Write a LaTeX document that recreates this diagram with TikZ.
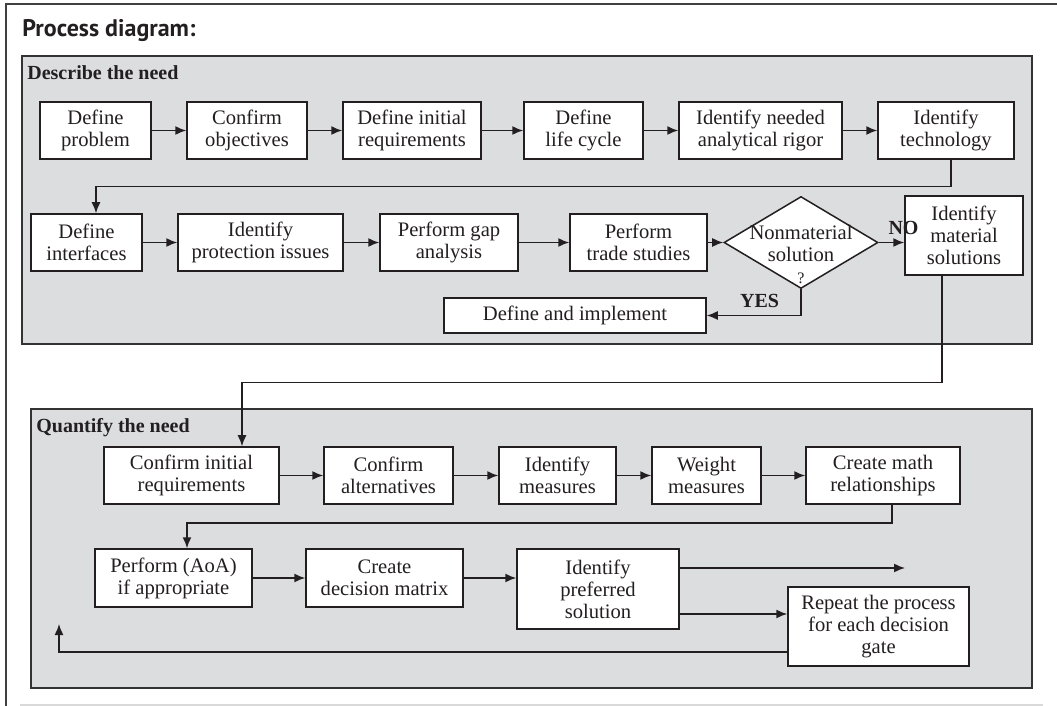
\documentclass[tikz,border=0pt]{standalone}
\usepackage{fontspec}
\setmainfont{Liberation Serif}
\newfontfamily\headfont{PT Sans}
\usetikzlibrary{shapes.geometric, arrows.meta}

\definecolor{panelgray}{RGB}{220,221,223}
\definecolor{inkgray}{RGB}{35,31,32}

\tikzstyle{panel} = [draw=black!80, line width=1pt, fill=panelgray]
\tikzstyle{process} = [rectangle, draw=inkgray, line width=0.75pt, fill=white,
inner sep=0pt, text centered, align=center, text=inkgray]
\tikzstyle{decision} = [diamond, draw=inkgray, line width=0.75pt, fill=white,
inner sep=0pt]
\tikzstyle{panellabel} = [anchor=base west, inner sep=0pt, font=\bfseries, text=inkgray]
\tikzstyle{arrow} = [line width=0.75pt, draw=inkgray, ->, >={Latex[length=5.5pt,width=4.5pt]}]

\begin{document}
\begin{tikzpicture}[x=0.5pt, y=-0.5pt, font=\fontsize{10.3}{11}\selectfont]

  \useasboundingbox (0,0) rectangle (1057,706);

  % frame and the two panels
  \draw [line width=0.75pt, draw=black!75] (6,706) -- (6,4) -- (1057,4);
  \draw [line width=0.75pt, draw=black!15] (20,705) -- (1043,705);
  \node (title) [anchor=base west, inner sep=0pt, text=inkgray,
    font=\headfont\bfseries\fontsize{12}{14}\selectfont] at (22,37) {Process diagram:};

  \draw [panel] (22,56) rectangle (1032,344);
  \draw [panel] (31,409) rectangle (1032,688);
  \node (describe) [panellabel] at (27,80) {Describe the need};
  \node (quantify) [panellabel] at (36,432) {Quantify the need};

  % describe the need
  \node (dprob) [process, minimum width=55.5pt, minimum height=28.5pt] at (95.5,130.5) {Define\\problem};
  \node (confobj) [process, minimum width=60pt, minimum height=28.5pt] at (247,130.5) {Confirm\\objectives};
  \node (definit) [process, minimum width=69pt, minimum height=28.5pt] at (412,130.5) {Define initial\\requirements};
  \node (lifecyc) [process, minimum width=59.5pt, minimum height=28.5pt] at (583.5,130.5) {Define\\life cycle};
  \node (rigor) [process, minimum width=81.5pt, minimum height=28.5pt] at (760.5,130.5) {Identify needed\\analytical rigor};
  \node (tech) [process, minimum width=68pt, minimum height=28.5pt] at (946,130.5) {Identify\\technology};

  \node (interf) [process, minimum width=55.5pt, minimum height=28.5pt] at (86.5,242.5) {Define\\interfaces};
  \node (protect) [process, minimum width=82.5pt, minimum height=28.5pt] at (260.5,242.5) {Identify\\protection issues};
  \node (gap) [process, minimum width=69pt, minimum height=28.5pt] at (449,242.5) {Perform gap\\analysis};
  \node (trade) [process, minimum width=68.5pt, minimum height=28.5pt] at (638.5,242.5) {Perform\\trade studies};
  \node (dia) [decision, minimum width=77pt, minimum height=46pt,
    label={[align=center, text=inkgray, yshift=-6pt]center:Nonmaterial\\solution\\{\footnotesize ?}}] at (801,242.5) {};
  \node (matsol) [process, minimum width=59pt, minimum height=39.5pt] at (964,235.5) {Identify\\material\\solutions};
  \node (implem) [process, minimum width=131pt, minimum height=17.5pt] at (575,315.5) {Define and implement};

  % quantify the need
  \node (confreq) [process, minimum width=87.5pt, minimum height=28.5pt] at (191.5,475.5) {Confirm initial\\requirements};
  \node (confalt) [process, minimum width=64.5pt, minimum height=28.5pt] at (388.5,475.5) {Confirm\\alternatives};
  \node (idmeas) [process, minimum width=58.5pt, minimum height=28.5pt] at (557.5,475.5) {Identify\\measures};
  \node (wmeas) [process, minimum width=54.5pt, minimum height=28.5pt] at (706.5,475.5) {Weight\\measures};
  \node (mathrel) [process, minimum width=77pt, minimum height=28.5pt] at (883,475.5) {Create math\\relationships};

  \node (aoa) [process, minimum width=78.5pt, minimum height=29pt] at (173.5,578) {Perform (AoA)\\if appropriate};
  \node (dmatrix) [process, minimum width=78.5pt, minimum height=29pt] at (384.5,578) {Create\\decision matrix};
  \node (prefsol) [process, minimum width=81pt, minimum height=40pt] at (598,589) {Identify\\preferred\\solution};
  \node (rep) [process, minimum width=90.5pt, minimum height=39.5pt] at (878.5,626.5) {Repeat the process\\for each decision\\gate};

  \coordinate (next) at (905,568);
  \coordinate (back) at (59,624);

  \draw [arrow] (dprob) -- (confobj);
  \draw [arrow] (confobj) -- (definit);
  \draw [arrow] (definit) -- (lifecyc);
  \draw [arrow] (lifecyc) -- (rigor);
  \draw [arrow] (rigor) -- (tech);
  \draw [arrow] ([xshift=2.5pt]tech.south) -- ++(0,27) -| ([xshift=4.75pt]interf.north);

  \draw [arrow] (interf) -- (protect);
  \draw [arrow] (protect) -- (gap);
  \draw [arrow] (gap) -- (trade);
  \draw [arrow] (trade) -- (dia);
  \draw [arrow] (dia.east) -- node[above, xshift=6pt, font=\bfseries, text=inkgray] {NO} (dia.east -| matsol.west);
  \draw [arrow] (dia.south) |- node[pos=0.72, above, font=\bfseries, text=inkgray] {YES} (implem.east);

  \draw [arrow] ([xshift=-11pt]matsol.south) -- ++(0,107) -| ([xshift=25.25pt]confreq.north);

  \draw [arrow] (confreq) -- (confalt);
  \draw [arrow] (confalt) -- (idmeas);
  \draw [arrow] (idmeas) -- (wmeas);
  \draw [arrow] (wmeas) -- (mathrel);
  \draw [arrow] ([xshift=4.5pt]mathrel.south) -- ++(0,18) -| ([xshift=6.75pt]aoa.north);

  \draw [arrow] (aoa) -- (dmatrix);
  \draw [arrow] (dmatrix.east) -- (dmatrix.east -| prefsol.west);
  \draw [arrow] (prefsol.east |- next) -- (next);
  \draw [arrow] ([yshift=-12.5pt]prefsol.east) -- ([yshift=-12.5pt]prefsol.east -| rep.west);
  \draw [arrow] ([yshift=-12.75pt]rep.west) -| (back);

\end{tikzpicture}
\end{document}
